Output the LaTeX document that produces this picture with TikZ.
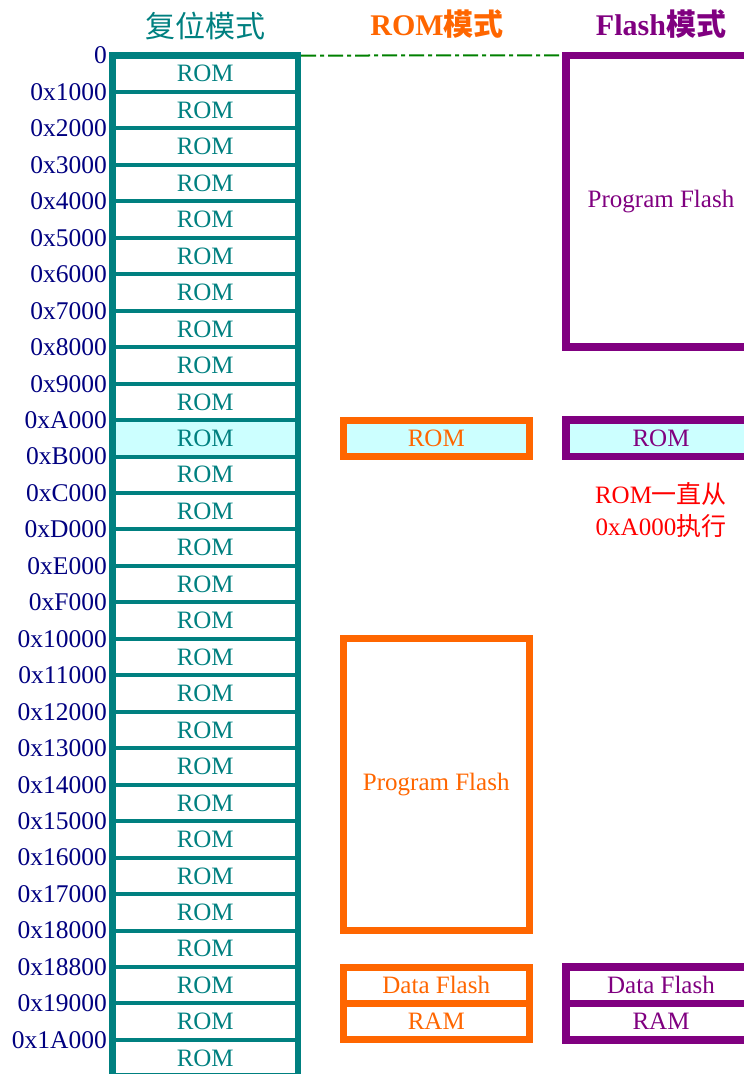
\documentclass[tikz,border=0pt]{standalone}
\usepackage{fontspec}
\setmainfont{Liberation Serif}
\newfontfamily\cjk{Noto Sans CJK SC}
\usetikzlibrary{positioning}

\definecolor{resetc}{HTML}{008080}
\definecolor{addrc}{HTML}{000080}
\definecolor{romc}{HTML}{FF6600}
\definecolor{flashc}{HTML}{800080}
\definecolor{hilite}{HTML}{CCFFFF}
\definecolor{notec}{HTML}{FF0000}
\definecolor{linkc}{HTML}{008000}

\begin{document}
\begin{tikzpicture}[x=1pt, y=-1pt, font=\fontsize{25}{29}\selectfont,
  row/.style={draw=resetc, line width=4pt, minimum width=185.5pt, minimum height=36.46pt, inner sep=0pt, outer sep=0pt, text=resetc},
  addr/.style={anchor=east, inner sep=0pt, text=addrc, font=\fontsize{25.5}{29}\selectfont},
  title/.style={inner sep=0pt, font=\fontsize{30}{34}\selectfont},
  romblk/.style={draw=romc, line width=7pt, minimum width=185.5pt, inner sep=0pt, outer sep=0pt, text=romc},
  flashblk/.style={draw=flashc, line width=7.5pt, minimum width=190pt, inner sep=0pt, outer sep=0pt, text=flashc}]
  \useasboundingbox (0,0) rectangle (744,1074);
  \clip (0,0) rectangle (744,1074);

  % titles
  \node[title, text=resetc] (ttl1) at (205,26) {\cjk 复位模式};
  \node[title, text=romc] (ttl2) at (437,24) {\bfseries ROM\cjk 模式};
  \node[title, text=flashc] (ttl3) at (661,24) {\bfseries Flash\cjk 模式};

  % reset mode: 28 rows of ROM
  \foreach \i in {0,...,27}
    \node[row] (r\i) at (205.25, {55.5+36.46*(\i+0.5)}) {ROM};
  \node[row, fill=hilite] (r10) at (205.25, {55.5+36.46*10.5}) {ROM};
  \draw[resetc, line width=6.5pt] (r0.north west) rectangle (r27.south east);

  % addresses
  \foreach \a [count=\i from 0] in {0,0x1000,0x2000,0x3000,0x4000,0x5000,0x6000,0x7000,
      0x8000,0x9000,0xA000,0xB000,0xC000,0xD000,0xE000,0xF000,0x10000,0x11000,0x12000,
      0x13000,0x14000,0x15000,0x16000,0x17000,0x18000,0x18800,0x19000,0x1A000}
    \node[addr] (a\i) at (107, {55.5+36.46*\i}) {\a};

  % ROM mode
  \node[romblk, fill=hilite, minimum height=36.46pt] (rom) at (436.25, {55.5+36.46*10.5}) {ROM};
  \node[romblk, minimum height=291.7pt] (pflash) at (436.25, {55.5+36.46*20}) {Program Flash};
  \node[romblk, minimum height=36.46pt] (dflash) at (436.25, {55.5+36.46*25.5}) {Data Flash};
  \node[romblk, minimum height=36.46pt, below=0pt of dflash] (ram) {RAM};

  % Flash mode
  \node[flashblk, minimum height=291.7pt] (fpflash) at (661, {55.5+36.46*4}) {Program Flash};
  \node[flashblk, fill=hilite, minimum height=36.46pt] (from) at (661, {55.5+36.46*10.5}) {ROM};
  \node[flashblk, minimum height=36.46pt] (fdflash) at (661, {55.5+36.46*25.5}) {Data Flash};
  \node[flashblk, minimum height=36.46pt, below=0pt of fdflash] (fram) {RAM};

  \node[text=notec, align=center, inner sep=0pt] (note) at (661,510)
    {ROM{\cjk 一直从}\\[3pt]0xA000{\cjk 执行}};

  \draw[linkc, line width=2pt, dash pattern=on 15pt off 4pt on 4pt off 4pt,
    shorten <=3pt, shorten >=4pt] (r0.north east) -- (fpflash.north west);
\end{tikzpicture}
\end{document}
